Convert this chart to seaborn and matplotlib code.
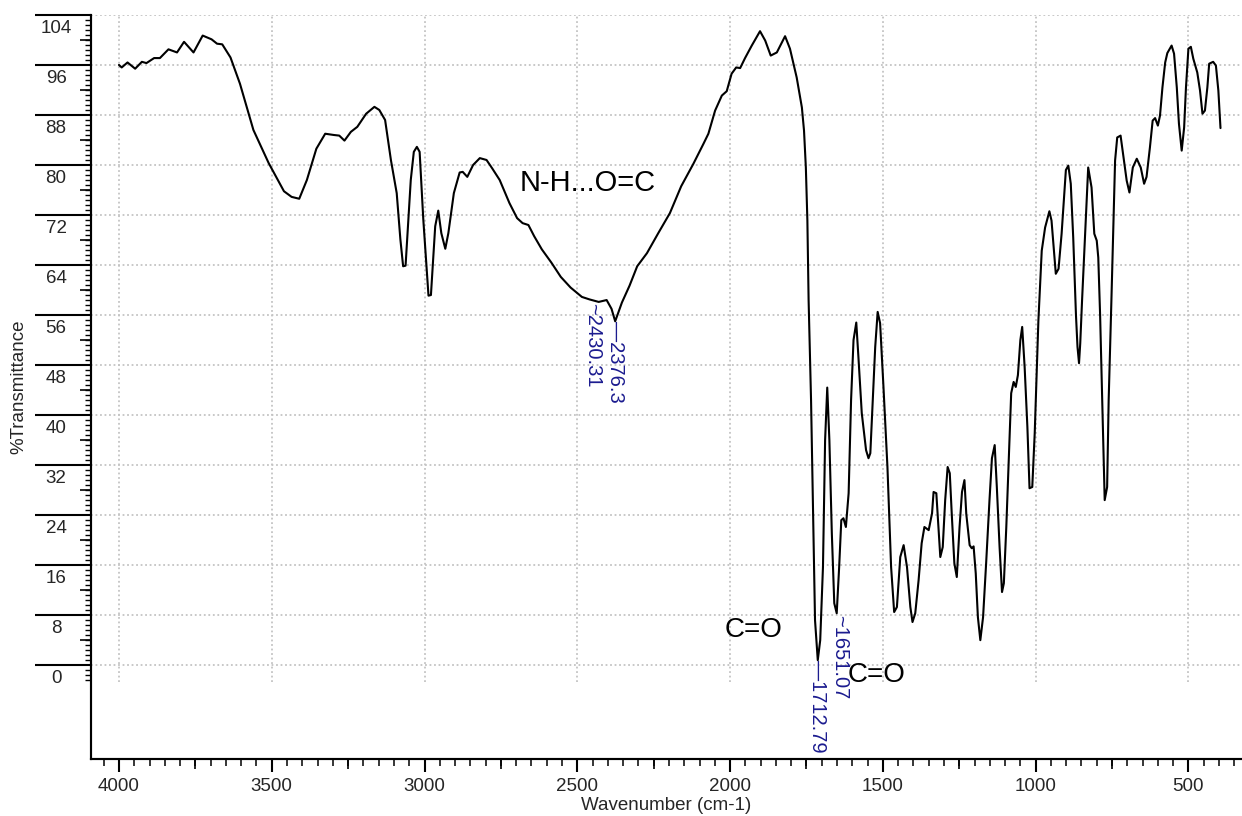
import numpy as np
import pandas as pd
import matplotlib
matplotlib.use("Agg")
import matplotlib.pyplot as plt
import matplotlib.transforms as mtransforms
import seaborn as sns

# spectrum (cm-1, %T)
wavenumber = [4000, 3991, 3972, 3947, 3925, 3910, 3885, 3866, 3838, 3810, 3787, 3756, 3726, 3697,
              3679, 3662, 3635, 3604, 3560, 3510, 3460, 3435, 3410, 3385, 3354, 3325, 3297, 3279,
              3262, 3241, 3220, 3191, 3164, 3148, 3129, 3110, 3091, 3079, 3070, 3062, 3045, 3035,
              3025, 3016, 3004, 2987, 2979, 2965, 2955, 2945, 2932, 2922, 2904, 2885, 2875, 2860,
              2841, 2819, 2797, 2779, 2754, 2722, 2697, 2679, 2660, 2641, 2616, 2585, 2554, 2522,
              2485, 2460, 2430, 2404, 2388, 2376, 2354, 2329, 2304, 2272, 2235, 2197, 2160, 2120,
              2087, 2071, 2049, 2027, 2011, 1995, 1980, 1967, 1951, 1929, 1902, 1885, 1867, 1847,
              1820, 1804, 1782, 1765, 1758, 1752, 1747, 1743, 1735, 1729, 1722, 1713, 1705, 1696,
              1689, 1682, 1675, 1667, 1659, 1651, 1643, 1636, 1629, 1621, 1612, 1604, 1596, 1587,
              1580, 1569, 1555, 1547, 1541, 1533, 1525, 1517, 1509, 1498, 1485, 1473, 1463, 1454,
              1443, 1432, 1421, 1410, 1403, 1394, 1383, 1373, 1364, 1350, 1339, 1334, 1325, 1318,
              1312, 1304, 1296, 1288, 1281, 1274, 1266, 1258, 1249, 1241, 1233, 1227, 1216, 1209,
              1203, 1196, 1189, 1181, 1172, 1162, 1151, 1143, 1134, 1127, 1118, 1110, 1104, 1096,
              1088, 1080, 1072, 1065, 1058, 1050, 1044, 1036, 1027, 1020, 1011, 1003, 996, 991,
              980, 969, 955, 948, 934, 925, 915, 906, 901, 893, 885, 877, 868, 863, 858, 854, 848,
              838, 828, 817, 808, 800, 795, 789, 782, 774, 766, 761, 752, 740, 733, 722, 711, 702,
              693, 682, 669, 656, 645, 637, 626, 617, 609, 600, 593, 585, 576, 569, 555, 547, 538,
              531, 522, 514, 508, 500, 492, 484, 471, 462, 454, 446, 438, 432, 419, 410, 402, 395]
transmittance = [96.0, 95.6, 96.4, 95.4, 96.5, 96.3, 97.1, 97.1, 98.5, 98.0, 99.7, 98.0, 100.7, 100.1,
                 99.4, 99.3, 97.2, 93.0, 85.6, 80.3, 75.8, 74.9, 74.6, 77.6, 82.6, 85.0, 84.8, 84.7,
                 83.9, 85.3, 86.1, 88.2, 89.3, 88.8, 87.2, 80.8, 75.5, 68.1, 63.8, 63.9, 77.6, 82.1,
                 82.9, 82.1, 71.3, 59.1, 59.2, 70.2, 72.7, 69.1, 66.6, 69.1, 75.5, 78.8, 78.9, 78.1,
                 80.0, 81.1, 80.8, 79.5, 77.6, 73.9, 71.5, 70.7, 70.4, 68.6, 66.5, 64.4, 62.1, 60.4,
                 58.9, 58.5, 58.1, 58.4, 57.0, 55.0, 58.0, 60.7, 63.8, 65.9, 69.1, 72.3, 76.6, 80.2,
                 83.4, 85.0, 88.7, 91.1, 91.8, 94.6, 95.6, 95.5, 97.1, 99.1, 101.4, 99.9, 97.5, 98.0,
                 100.6, 98.6, 94.0, 89.2, 85.5, 79.6, 71.1, 58.4, 42.4, 26.4, 7.2, 0.8, 4.0, 15.7,
                 36.0, 44.4, 36.0, 21.1, 9.9, 8.3, 15.7, 23.2, 23.5, 22.1, 27.5, 42.4, 52.0, 54.8,
                 49.3, 40.3, 34.4, 33.1, 33.9, 42.4, 50.9, 56.5, 54.7, 44.5, 31.7, 15.7, 8.5, 9.3,
                 17.3, 19.2, 15.7, 9.3, 6.9, 8.3, 13.6, 19.5, 22.1, 21.6, 24.3, 27.7, 27.5, 22.1,
                 17.3, 18.9, 26.4, 31.7, 30.7, 23.7, 16.3, 14.1, 22.1, 27.7, 29.6, 24.2, 19.2, 18.7,
                 19.0, 14.7, 7.7, 4.0, 7.7, 16.3, 26.4, 33.1, 35.2, 28.5, 18.9, 11.7, 13.1, 22.1,
                 32.8, 43.5, 45.3, 44.5, 46.4, 52.0, 54.1, 47.7, 38.1, 28.3, 28.5, 37.1, 47.7, 55.1,
                 66.3, 70.0, 72.6, 71.1, 62.6, 63.4, 69.0, 75.4, 79.2, 79.9, 77.0, 68.4, 56.0, 50.9, 48.3, 51.5, 58.4,
                 69.0, 79.6, 76.4, 69.0, 67.9, 65.2, 56.0, 42.4, 26.4, 28.5, 42.4, 58.4, 80.7, 84.4, 84.7, 80.7, 77.5,
                 75.6, 79.6, 81.0, 79.6, 77.0, 78.1, 82.8, 87.1, 87.5, 86.3, 87.9, 92.4, 96.4, 97.9, 99.1, 97.8, 92.4,
                 86.6, 82.3, 86.0, 92.4, 98.6, 98.9, 97.0, 94.8, 91.9, 88.2, 88.7, 92.4, 96.2, 96.5, 95.9, 91.9, 85.9]

# peak picks (blue, rotated)
peak_labels = ["2430.31", "2376.3", "1712.79", "1651.07"]
peak_leads = ["~", "\u2014", "\u2014", "~"]
peak_text_x = [2450, 2376.3, 1712.79, 1640]
peak_text_y = [57.9, 55.0, 0.8, 8.0]

# band assignments
band_labels = ["N-H...O=C", "C=O", "C=O"]
band_x = [2690, 1922, 1519]
band_y = [77.1, 5.6, -1.6]

y_major = list(range(0, 105, 8))
x_major = list(range(500, 4001, 500))

sns.set_style("white")
plt.rcParams["font.family"] = ["Liberation Sans", "DejaVu Sans"]

fig = plt.figure(figsize=(12.42, 8.16), dpi=100)
ax = fig.add_axes([0.0729, 0.0699, 0.9275, 0.9118])

df = pd.DataFrame({"wn": wavenumber, "T": transmittance})
sns.lineplot(data=df, x="wn", y="T", ax=ax, color="black", lw=1.5,
             sort=False, estimator=None, zorder=3)

ax.set_xlim(4093, 323)
ax.set_ylim(-15, 104)

for s in ["top", "right"]:
    ax.spines[s].set_visible(False)
for s in ["left", "bottom"]:
    ax.spines[s].set_linewidth(1.5)
    ax.spines[s].set_color("black")

grid_kw = dict(color="#c4c4c4", ls=(0, (1, 1.5)), lw=1.3)
ax.set_axisbelow(True)
ax.grid(axis="y", which="major", **grid_kw)
for xv in x_major:
    ax.axvline(xv, ymin=(-2.7 + 15) / 119, ymax=1, zorder=0, **grid_kw)

# y ticks: long major, medium at half, short every 0.8
ax.set_yticks(y_major)
ax.set_yticks(np.arange(-2.4, 104.1, 0.8), minor=True)
ax.tick_params(axis="y", which="major", length=40, width=1.5, color="black",
               direction="out", labelsize=13.5, pad=-15.2, left=True)
ax.tick_params(axis="y", which="minor", length=4.5, width=1.0, color="black",
               direction="out", left=True)
shift = mtransforms.ScaledTranslation(0, -13.5 / 100, fig.dpi_scale_trans)
for lbl in ax.get_yticklabels():
    lbl.set_horizontalalignment("center")
    lbl.set_verticalalignment("center")
    lbl.set_transform(lbl.get_transform() + shift)

sec_y = ax.secondary_yaxis("left")
sec_y.set_yticks(np.arange(4, 101, 8))
sec_y.set_yticklabels([])
sec_y.tick_params(length=8, width=1.2, color="black")
sec_y.spines["left"].set_linewidth(1.5)

# x ticks: major 500, medium 250, minor 50
ax.set_xticks(x_major)
ax.set_xticks(np.arange(350, 4051, 50), minor=True)
ax.tick_params(axis="x", which="major", length=9, width=1.5, color="black",
               direction="out", labelsize=13.5, pad=5, bottom=True)
ax.tick_params(axis="x", which="minor", length=5, width=1.1, color="black",
               direction="out", bottom=True)
sec_x = ax.secondary_xaxis("bottom")
sec_x.set_xticks(np.arange(750, 3751, 500))
sec_x.set_xticklabels([])
sec_x.tick_params(length=7, width=1.2, color="black")
sec_x.spines["bottom"].set_linewidth(1.5)

ax.set_xlabel("Wavenumber (cm-1)", fontsize=13.5, labelpad=1)
ax.set_ylabel("%Transmittance", fontsize=13.5)
ax.yaxis.set_label_coords(-0.055, 0.5)

for lab, lead, xv, yv in zip(peak_labels, peak_leads, peak_text_x, peak_text_y):
    ax.text(xv, yv, lead + lab, rotation=-90, ha="center", va="top",
            color="#1b1b8f", fontsize=14.5, zorder=4)

for lab, xv, yv in zip(band_labels, band_x, band_y):
    ha = "left" if lab.startswith("N") else "center"
    fs = 21 if lab.startswith("N") else 20
    ax.text(xv, yv, lab, ha=ha, va="center", fontsize=fs, color="black", zorder=4)

fig.savefig("out.png", dpi=100)
